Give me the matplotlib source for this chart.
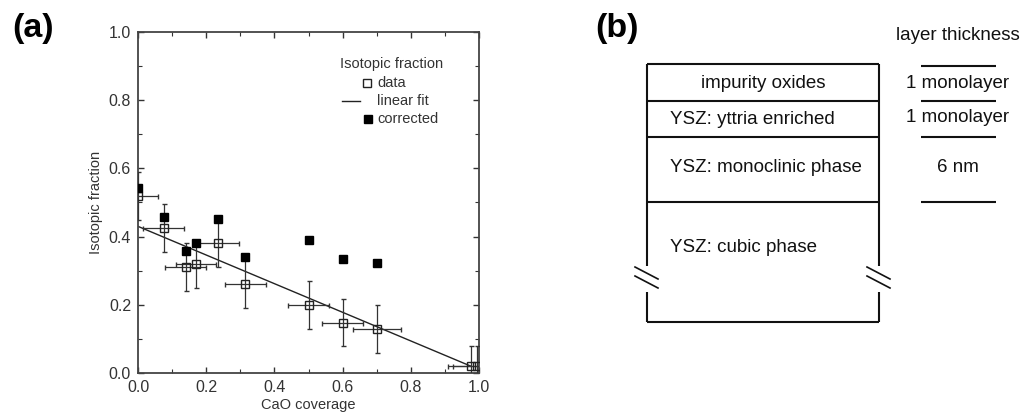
import numpy as np
import matplotlib
matplotlib.use("Agg")
import matplotlib.pyplot as plt
from matplotlib.ticker import MultipleLocator

plt.rcParams['font.family'] = ['Liberation Sans', 'DejaVu Sans']

# ---- panel (a) data ----
cao = [0.0, 0.075, 0.14, 0.17, 0.235, 0.315, 0.50, 0.60, 0.70, 0.978, 0.994]
iso = [0.52, 0.425, 0.31, 0.32, 0.38, 0.262, 0.20, 0.148, 0.128, 0.02, 0.02]
x_err = [0.06, 0.06, 0.06, 0.06, 0.06, 0.06, 0.06, 0.06, 0.07, 0.07, 0.07]
y_err = [0.07, 0.07, 0.07, 0.07, 0.07, 0.07, 0.07, 0.07, 0.07, 0.06, 0.06]

cao_corr = [0.0, 0.075, 0.14, 0.17, 0.235, 0.315, 0.50, 0.60, 0.70]
iso_corr = [0.543, 0.458, 0.357, 0.38, 0.452, 0.34, 0.39, 0.333, 0.323]

fit_intercept = 0.43
fit_slope = -0.42
fit_range = [0.0, 0.975]

# ---- panel (b) data ----
layer_names = ['impurity oxides', 'YSZ: yttria enriched',
               'YSZ: monoclinic phase', 'YSZ: cubic phase']
thickness_labels = ['1 monolayer', '1 monolayer', '6 nm']

W, H = 1025, 413
fig = plt.figure(figsize=(W / 100, H / 100), dpi=100)

gray = '#333333'
ax = fig.add_axes([138 / W, (H - 373) / H, 341 / W, 341 / H])
ax.errorbar(cao, iso, xerr=x_err, yerr=y_err, fmt='s', ms=5.3, mfc='none',
            mec='#222222', mew=1.0, ecolor='#333333', elinewidth=0.9,
            capsize=1.8, capthick=0.9, zorder=3)
ax.plot(cao_corr, iso_corr, 's', ms=5.8, color='black', zorder=4)
xf = np.array(fit_range)
ax.plot(xf, fit_intercept + fit_slope * xf, color='#222222', lw=1.0, zorder=2)

ax.set_xlim(0, 1)
ax.set_ylim(0, 1)
ax.xaxis.set_major_locator(MultipleLocator(0.2))
ax.yaxis.set_major_locator(MultipleLocator(0.2))
ax.xaxis.set_minor_locator(MultipleLocator(0.1))
ax.yaxis.set_minor_locator(MultipleLocator(0.1))
ax.tick_params(which='both', direction='in', top=True, right=True,
               color=gray, labelcolor=gray, labelsize=11.5, pad=5)
ax.tick_params(which='major', length=4, width=1)
ax.tick_params(which='minor', length=3, width=0.8)
ax.xaxis.set_major_formatter(matplotlib.ticker.FormatStrFormatter('%.1f'))
ax.yaxis.set_major_formatter(matplotlib.ticker.FormatStrFormatter('%.1f'))
for s in ax.spines.values():
    s.set_color('#444444')
    s.set_linewidth(1.3)
ax.set_xlabel('CaO coverage', fontsize=10.5, color=gray, labelpad=2)
ax.set_ylabel('Isotopic fraction', fontsize=10.5, color=gray, labelpad=4)

# legend drawn by hand
tr = ax.transAxes
ax.text(0.592, 0.906, 'Isotopic fraction', transform=tr, fontsize=10.5,
        color=gray, va='center')
ax.plot([0.672], [0.850], 's', ms=5.3, mfc='none', mec='#222222', mew=1.0,
        transform=tr, clip_on=False)
ax.text(0.701, 0.850, 'data', transform=tr, fontsize=10.5, color=gray,
        va='center')
ax.plot([0.598, 0.651], [0.798, 0.798], color='#222222', lw=1.0,
        transform=tr, clip_on=False)
ax.text(0.701, 0.798, 'linear fit', transform=tr, fontsize=10.5, color=gray,
        va='center')
ax.plot([0.674], [0.745], 's', ms=5.5, color='black', transform=tr,
        clip_on=False)
ax.text(0.701, 0.745, 'corrected', transform=tr, fontsize=10.5, color=gray,
        va='center')

# ---- panel (b): layer diagram in pixel coordinates ----
axb = fig.add_axes([0, 0, 1, 1], zorder=-1)
axb.set_xlim(0, W)
axb.set_ylim(H, 0)
axb.axis('off')
axb.patch.set_alpha(0)

bx0, bx1 = 647, 879
bounds = [64, 101, 137, 202, 322]
lk = dict(color='#111111', lw=1.5, solid_capstyle='butt')
for yb in bounds:
    axb.plot([bx0, bx1], [yb, yb], **lk)
for xb in (bx0, bx1):
    axb.plot([xb, xb], [bounds[0], 266], **lk)
    axb.plot([xb, xb], [292, bounds[-1]], **lk)
# break marks
for xb in (bx0, bx1):
    for dy in (0, 9):
        axb.plot([xb - 12, xb + 11], [267 + dy, 279 + dy], color='#111111',
                 lw=1.2)

tk = dict(fontsize=13.5, color='#111111', va='center')
axb.text((bx0 + bx1) / 2, 83, layer_names[0], ha='center', **tk)
axb.text(670, 120, layer_names[1], ha='left', **tk)
axb.text(670, 167, layer_names[2], ha='left', **tk)
axb.text(670, 248, layer_names[3], ha='left', **tk)

for yb in [66, 101, 137, 202]:
    axb.plot([921, 996], [yb, yb], **lk)
axb.text(958, 35, 'layer thickness', ha='center', **tk)
for lab, yt in zip(thickness_labels, [83, 117, 167]):
    axb.text(958, yt, lab, ha='center', **tk)

fig.text(12 / W, 1 - 28 / H, '(a)', fontsize=24.5, fontweight='bold',
         va='center', ha='left')
fig.text(595 / W, 1 - 28 / H, '(b)', fontsize=24.5, fontweight='bold',
         va='center', ha='left')

fig.savefig('out.png', dpi=100)
